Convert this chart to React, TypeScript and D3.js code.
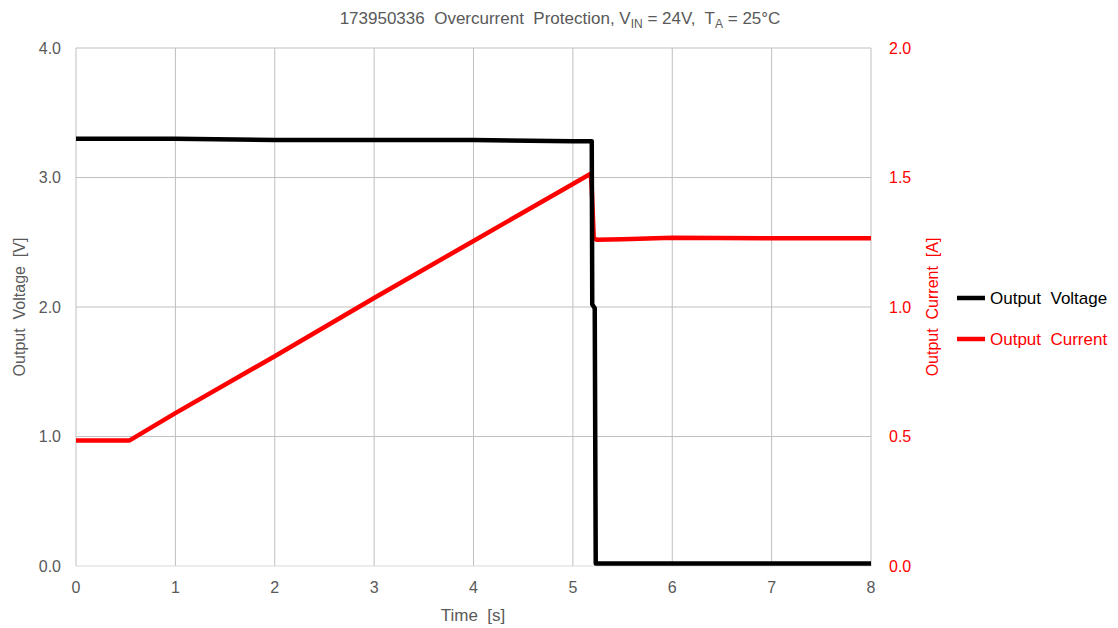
import React from "react";
import * as d3 from "d3";

const timeTicks = [0, 1, 2, 3, 4, 5, 6, 7, 8];
const voltTicks = [0, 1, 2, 3, 4];
const currTicks = [0, 0.5, 1.0, 1.5, 2.0];

const voltT = [0, 1, 2, 3, 4, 5, 5.19, 5.195, 5.22, 5.23, 6, 7, 8];
const voltV = [3.3, 3.3, 3.29, 3.29, 3.29, 3.28, 3.28, 2.02, 1.99, 0.02, 0.02, 0.02, 0.02];

const currT = [0, 0.3, 0.54, 1, 2, 3, 4, 5, 5.18, 5.19, 5.21, 5.24, 5.5, 6, 7, 8];
const currA = [0.485, 0.485, 0.485, 0.59, 0.81, 1.035, 1.255, 1.475, 1.515, 1.46, 1.265, 1.26, 1.262, 1.267, 1.265, 1.265];

const W = 1118;
const H = 628;
const L = 76, R = 871, T = 48, B = 566;
const grey = "#595959";
const font = "'Liberation Sans', Arial, sans-serif";
const pre: React.CSSProperties = { whiteSpace: "pre" };

export default function App() {
  const x = d3.scaleLinear().domain([0, 8]).range([L, R]);
  const yV = d3.scaleLinear().domain([0, 4]).range([B, T]);
  const yA = d3.scaleLinear().domain([0, 2]).range([B, T]);

  const vData = voltT.map((t, i) => [t, voltV[i]] as [number, number]);
  const aData = currT.map((t, i) => [t, currA[i]] as [number, number]);
  const vLine = d3.line<[number, number]>().x(d => x(d[0])).y(d => yV(d[1]));
  const aLine = d3.line<[number, number]>().x(d => x(d[0])).y(d => yA(d[1]));

  return (
    <svg width={W} height={H} style={{ position: "absolute", left: 0, top: 0, background: "#fff" }} fontFamily={font}>
      <rect x={0} y={0} width={W} height={H} fill="#fff" />
      {timeTicks.map(t => (
        <line key={"vx" + t} x1={x(t)} x2={x(t)} y1={T} y2={B} stroke="#bfbfbf" strokeWidth={1} />
      ))}
      {voltTicks.map(v => (
        <line key={"hy" + v} x1={L} x2={R} y1={yV(v)} y2={yV(v)} stroke={v === 0 ? "#d9d9d9" : "#bfbfbf"} strokeWidth={1} />
      ))}
      <path d={aLine(aData) || ""} fill="none" stroke="#ff0000" strokeWidth={4.5} strokeLinejoin="round" />
      <path d={vLine(vData) || ""} fill="none" stroke="#000" strokeWidth={4.5} strokeLinejoin="round" />

      {voltTicks.map(v => (
        <text key={"lv" + v} x={61} y={yV(v)} dy="0.35em" textAnchor="end" fontSize={16} fill={grey}>{v.toFixed(1)}</text>
      ))}
      {currTicks.map(v => (
        <text key={"la" + v} x={889} y={yA(v)} dy="0.35em" textAnchor="start" fontSize={16} fill="#ff0000">{v.toFixed(1)}</text>
      ))}
      {timeTicks.map(t => (
        <text key={"lt" + t} x={x(t)} y={593} textAnchor="middle" fontSize={16} fill={grey}>{t}</text>
      ))}
      <text xmlSpace="preserve" style={pre} x={473} y={621} textAnchor="middle" fontSize={17} fill={grey}>{"Time  [s]"}</text>
      <text xmlSpace="preserve" style={pre} transform={`translate(25,${(T + B) / 2}) rotate(-90)`} textAnchor="middle" fontSize={16} fill={grey}>{"Output  Voltage  [V]"}</text>
      <text xmlSpace="preserve" style={pre} transform={`translate(938,${(T + B) / 2}) rotate(-90)`} textAnchor="middle" fontSize={16} fill="#ff0000">{"Output  Current  [A]"}</text>
      <text xmlSpace="preserve" style={pre} x={560} y={24} textAnchor="middle" fontSize={17} fill={grey}>
        {"173950336  Overcurrent  Protection, V"}
        <tspan fontSize={12} dy={4}>IN</tspan>
        <tspan dy={-4}>{" = 24V,  T"}</tspan>
        <tspan fontSize={12} dy={4}>A</tspan>
        <tspan dy={-4}>{" = 25°C"}</tspan>
      </text>

      <line x1={957} x2={985} y1={298} y2={298} stroke="#000" strokeWidth={4.5} />
      <text xmlSpace="preserve" style={pre} x={990} y={298} dy="0.35em" fontSize={17} fill="#000">{"Output  Voltage"}</text>
      <line x1={957} x2={985} y1={339} y2={339} stroke="#ff0000" strokeWidth={4.5} />
      <text xmlSpace="preserve" style={pre} x={990} y={339} dy="0.35em" fontSize={17} fill="#ff0000">{"Output  Current"}</text>
    </svg>
  );
}
